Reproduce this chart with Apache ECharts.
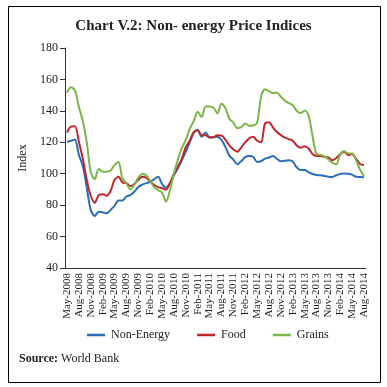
<!DOCTYPE html>
<html>
<head>
<meta charset="utf-8">
<script src="https://cdn.jsdelivr.net/npm/echarts@6/dist/echarts.min.js"></script>
<style>
html,body{margin:0;padding:0;background:#fff;}
#c{width:387px;height:387px;}
</style>
</head>
<body>
<div id="c"></div>
<script>
const categories = [
"May-2008","Jun-2008","Jul-2008","Aug-2008","Sep-2008","Oct-2008","Nov-2008","Dec-2008","Jan-2009","Feb-2009","Mar-2009",
"Apr-2009","May-2009","Jun-2009","Jul-2009","Aug-2009","Sep-2009","Oct-2009","Nov-2009","Dec-2009","Jan-2010","Feb-2010","Mar-2010",
"Apr-2010","May-2010","Jun-2010","Jul-2010","Aug-2010","Sep-2010","Oct-2010","Nov-2010","Dec-2010","Jan-2011","Feb-2011","Mar-2011",
"Apr-2011","May-2011","Jun-2011","Jul-2011","Aug-2011","Sep-2011","Oct-2011","Nov-2011","Dec-2011","Jan-2012","Feb-2012","Mar-2012",
"Apr-2012","May-2012","Jun-2012","Jul-2012","Aug-2012","Sep-2012","Oct-2012","Nov-2012","Dec-2012","Jan-2013","Feb-2013","Mar-2013",
"Apr-2013","May-2013","Jun-2013","Jul-2013","Aug-2013","Sep-2013","Oct-2013","Nov-2013","Dec-2013","Jan-2014","Feb-2014","Mar-2014",
"Apr-2014","May-2014","Jun-2014","Jul-2014","Aug-2014"
];

const nonEnergy = [120.4,121,121.8,112,105,91,77,73.1,75.8,75.5,74.8,77,79.5,83,83,85.5,86.4,88.5,91.5,93,
94,94.8,96.5,98,93.5,91,94,99,103.4,108.5,114,120,126,128,123.5,126.3,123.2,123.2,123.5,121.5,
117,111.5,109,106,108,110.5,111.2,110.8,107.5,108,109.6,110.3,111.2,109.5,107.9,108.3,108.5,107.7,104.1,102.3,
102.3,101,99.8,99.2,99,98.6,98.1,97.9,99,99.9,100.2,100,99.4,98,97.9,97.7];

const food = [126.1,130,130.2,120.4,109.5,96,86,81.5,86.4,87,86,89,96,98,94.5,94,92.2,93.5,96,98,
97.5,95,93,91.5,90.8,89.8,94,100,104.5,109.5,117,121,126.5,127.5,124.5,124.5,123,123.3,124.5,124.3,
121.7,118,115.5,114,116.7,120,122.5,123.5,121,120,132,132.8,129.5,126.5,124.6,123,122,121,118,116.5,
117.5,116,112.5,111.2,111.2,110.8,110.4,108.5,110,112.5,114,111.9,112.5,109.5,106.2,105.5];

const grains = [151.6,155,153,142.6,133.5,120,101,96.5,103,101.3,101.3,102,105.5,107.5,97,94,90,93,97.5,99.8,
99,95.5,91.5,89.6,88,82.2,89.5,100,109,116.5,121.5,128.5,133.5,139.5,136,142.8,142.8,142,138.4,144.6,
141.7,135,132.5,129,129.6,132,130.5,130.7,132.5,149,153.7,152.5,151.3,151.6,149,146.5,145,143.5,140,138.5,
140.3,137,124,112.5,112,111,109.2,107,106,112.5,114.5,112.8,112.8,108.5,102.5,98.5];

const yTicks = {min:40, max:180, interval:20};

const serif = "'Liberation Serif', 'DejaVu Serif', serif";
const chart = echarts.init(document.getElementById('c'), null, {renderer:'canvas'});
chart.setOption({
  animation:false,
  backgroundColor:'#fff',
  title:{
    text:'Chart V.2: Non- energy Price Indices',
    left:'center', top:14,
    textStyle:{fontFamily:serif, fontSize:15, fontWeight:'bold', color:'#222'}
  },
  legend:{
    bottom:41, left:82,
    icon:'rect', itemWidth:18, itemHeight:2.5, itemGap:27,
    textStyle:{fontFamily:serif, fontSize:12, color:'#222', padding:[0,0,0,1]},
    data:['Non-Energy','Food','Grains']
  },
  grid:{left:65, right:21, top:48, bottom:119},
  xAxis:{
    type:'category',
    data:categories,
    boundaryGap:true,
    axisLine:{lineStyle:{color:'#333', width:1}},
    axisTick:{interval:2, length:4, lineStyle:{color:'#333'}},
    axisLabel:{interval:2, rotate:90, fontFamily:serif, fontSize:11, color:'#222', margin:5},
    splitLine:{show:false}
  },
  yAxis:{
    type:'value',
    min:yTicks.min, max:yTicks.max, interval:yTicks.interval,
    name:'Index', nameLocation:'middle', nameGap:34, nameRotate:90,
    nameTextStyle:{fontFamily:serif, fontSize:12, color:'#222'},
    axisLine:{show:true, lineStyle:{color:'#333', width:1}},
    axisTick:{show:true, length:5, lineStyle:{color:'#333'}},
    axisLabel:{fontFamily:serif, fontSize:12, color:'#222', margin:7},
    splitLine:{show:false}
  },
  series:[
    {name:'Non-Energy', type:'line', data:nonEnergy, symbol:'none', smooth:0.3, lineStyle:{color:'#2a6ebb', width:2}, itemStyle:{color:'#2a6ebb'}},
    {name:'Food', type:'line', data:food, symbol:'none', smooth:0.3, lineStyle:{color:'#c0272d', width:2}, itemStyle:{color:'#c0272d'}},
    {name:'Grains', type:'line', data:grains, symbol:'none', smooth:0.3, lineStyle:{color:'#7ab648', width:2}, itemStyle:{color:'#7ab648'}}
  ],
  graphic:[
    {type:'rect', shape:{x:8.5, y:6.5, width:372, height:376}, style:{fill:null, stroke:'#000', lineWidth:1}},
    {type:'text', left:19, top:353, style:{
      text:'{b|Source:} World Bank',
      rich:{b:{fontFamily:serif, fontWeight:'bold', fontSize:12, fill:'#222'}},
      fontFamily:serif, fontSize:12, fill:'#222'
    }}
  ]
});
</script>
</body>
</html>
